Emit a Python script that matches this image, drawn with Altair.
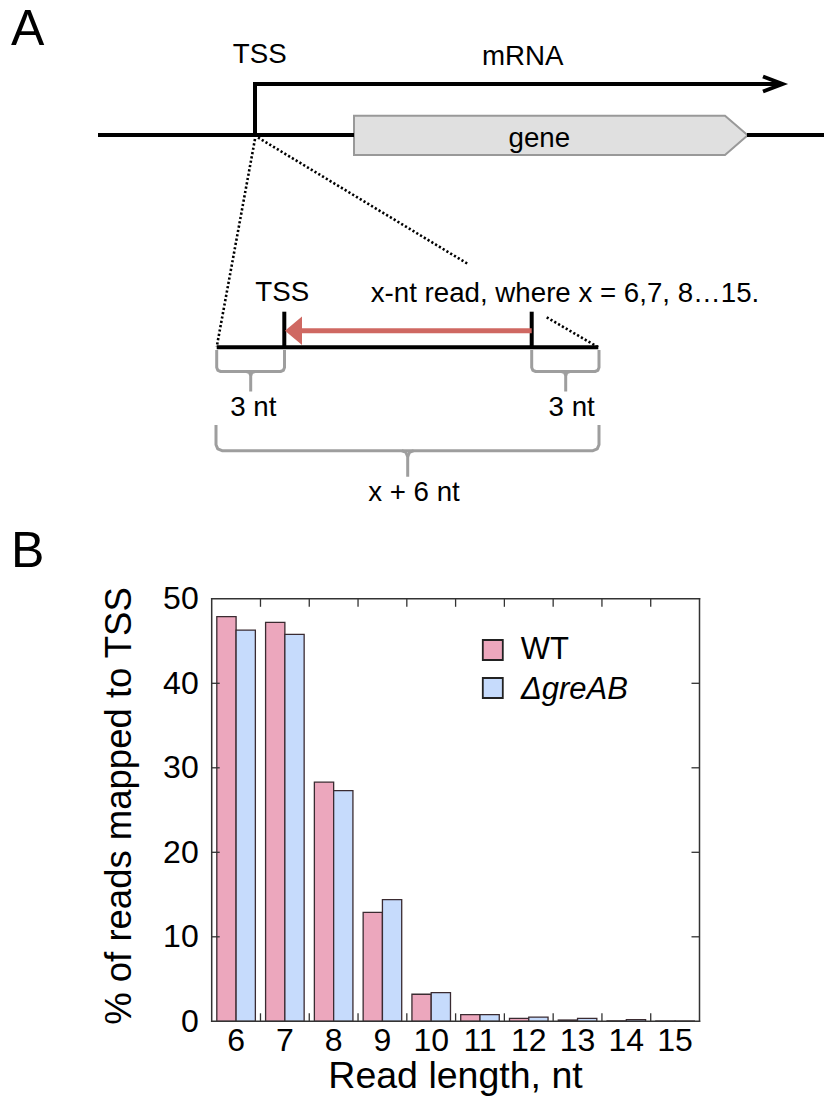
import altair as alt
import pandas as pd

# ---------------- data: panel B ----------------
read_lengths = [6, 7, 8, 9, 10, 11, 12, 13, 14, 15]
wt_pct = [47.9, 47.2, 28.3, 12.9, 3.2, 0.8, 0.35, 0.15, 0.05, 0.03]
greab_pct = [46.3, 45.8, 27.3, 14.4, 3.4, 0.8, 0.5, 0.35, 0.2, 0.03]
series_names = ["WT", "ΔgreAB"]
series_colors = ["#ECA7BD", "#C6DBFC"]
y_tick_values = [0, 10, 20, 30, 40, 50]
inner_y_ticks = [10, 20, 30, 40]
band_edges = [7, 8, 9, 10, 11, 12, 13, 14, 15]

# ---------------- layout ----------------
W, H = 824, 1099
XL, XR = 211.7, 699.5
Y0, Y50 = 1021.3, 598.8
TICK = 8
FONT = "Liberation Sans"
FS = 27.7

# ---------------- panel A diagram geometry ----------------
solid_paths = {
    "chrom_left": [(98, 135), (354, 135)],
    "chrom_right": [(747, 135), (824, 135)],
    "tss_arrow": [(255, 137), (255, 84), (780, 84)],
    "arrow_head": [(763, 76.5), (782.5, 84), (763, 91.5)],
    "zoom_line": [(216.7, 347.3), (598.3, 347.3)],
    "tss_tick": [(284.3, 311.7), (284.3, 349)],
    "read_tick": [(531.7, 311.7), (531.7, 349)],
}
dotted_segments = [
    (255, 139, 216.7, 347),
    (258, 137.5, 468, 264),
    (546.7, 317.3, 598.3, 347.3),
]
gene_shape = [(354, 115.7, 155), (725, 115.7, 155), (747.7, 135.3, 135.3)]
red_shaft = [(298, 330.7, 531.7, 330.7)]
red_head = [(285, 330.7, 330.7), (302, 316.5, 345)]
braces = [
    # xl, xr, xc, ytop, ybar, ytip, r
    (216.7, 284.5, 250.7, 350, 371.5, 391.5, 4),
    (531.7, 599, 565.7, 350, 371.5, 391.5, 4),
    (216, 599, 407.7, 425, 450.7, 476.7, 6),
]
center_texts = [
    ("TSS", 259.7, 62.5, FS),
    ("mRNA", 522.8, 65, FS),
    ("gene", 539.3, 146.5, FS),
    ("TSS", 282.2, 301, FS),
    ("3 nt", 253.3, 415.7, FS),
    ("3 nt", 571.7, 415.7, FS),
    ("x + 6 nt", 414, 501, FS),
    ("Read length, nt", 455.5, 1088.3, 37.5),
]
left_texts = [
    ("A", 11, 45, 50),
    ("B", 11, 566.7, 50),
    ("x-nt read, where x = 6,7, 8…15.", 370.7, 301.5, FS),
    ("WT", 520.7, 659.3, 31),
]
italic_texts = [("ΔgreAB", 521, 699, 31)]
rotated_texts = [("% of reads mapped to TSS", 131, 806, 36.5)]
legend_rows = [650, 688]
legend_x = 492.8

# ---------------- scales ----------------
px_x = alt.Scale(domain=[0, W], range=[0, W], nice=False, zero=False)
px_y = alt.Scale(domain=[0, H], range=[0, H], nice=False, zero=False)
x_scale = alt.Scale(domain=read_lengths, range=[XL, XR], paddingInner=0, paddingOuter=0)
y_scale = alt.Scale(domain=[0, 50], range=[Y0, Y50], nice=False, zero=True)
color_scale = alt.Scale(domain=series_names, range=series_colors)


def PX(f):
    return alt.X(f"{f}:Q", scale=px_x, axis=None)


def PY(f):
    return alt.Y(f"{f}:Q", scale=px_y, axis=None)


# ---------------- panel A layers ----------------
rows = []
for pid, pts in solid_paths.items():
    for i, (x, y) in enumerate(pts):
        rows.append(dict(pid=pid, o=i, x=x, y=y))
solid = alt.Chart(pd.DataFrame(rows)).mark_line(
    color="black", strokeWidth=4, strokeJoin="miter", strokeCap="butt"
).encode(x=PX("x"), y=PY("y"), detail="pid:N", order="o:Q")

dot_df = pd.DataFrame(dotted_segments, columns=["x", "y", "x2", "y2"])
dotted = alt.Chart(dot_df).mark_rule(
    color="black", strokeWidth=2.6, strokeDash=[2.2, 2.2]
).encode(x=PX("x"), y=PY("y"), x2="x2:Q", y2="y2:Q")

gene_df = pd.DataFrame(gene_shape, columns=["x", "y", "y2"])
gene = alt.Chart(gene_df).mark_area(
    fill="#E0E0E0", stroke="#999999", strokeWidth=2, strokeJoin="miter"
).encode(x=PX("x"), y=PY("y"), y2="y2:Q")

shaft_df = pd.DataFrame(red_shaft, columns=["x", "y", "x2", "y2"])
shaft = alt.Chart(shaft_df).mark_rule(color="#CF6862", strokeWidth=5).encode(
    x=PX("x"), y=PY("y"), x2="x2:Q", y2="y2:Q"
)
head_df = pd.DataFrame(red_head, columns=["x", "y", "y2"])
head = alt.Chart(head_df).mark_area(color="#CF6862").encode(
    x=PX("x"), y=PY("y"), y2="y2:Q"
)

brows = []
for bi, (xl, xr, xc, yt, yb, ytip, r) in enumerate(braces):
    k = 0.293 * r
    main = [(xl, yt), (xl, yb - r), (xl + k, yb - k), (xl + r, yb),
            (xr - r, yb), (xr - k, yb - k), (xr, yb - r), (xr, yt)]
    stem_l = [(xc - r, yb), (xc - k, yb + k), (xc, yb + r), (xc, ytip)]
    stem_r = [(xc + r, yb), (xc + k, yb + k), (xc, yb + r)]
    for name, pts in (("m", main), ("l", stem_l), ("r", stem_r)):
        for i, (x, y) in enumerate(pts):
            brows.append(dict(pid=f"{bi}{name}", o=i, x=x, y=y))
brace_layer = alt.Chart(pd.DataFrame(brows)).mark_line(
    color="#9E9E9E", strokeWidth=3, strokeJoin="round", strokeCap="butt"
).encode(x=PX("x"), y=PY("y"), detail="pid:N", order="o:Q")


def text_layer(items, align, **kw):
    df = pd.DataFrame(items, columns=["t", "x", "y", "fs"])
    return alt.Chart(df).mark_text(
        font=FONT, align=align, baseline="alphabetic", color="black", **kw
    ).encode(x=PX("x"), y=PY("y"), text="t:N", size=alt.Size("fs:Q", scale=None))


t_center = text_layer(center_texts, "center")
t_left = text_layer(left_texts, "left")
t_italic = text_layer(italic_texts, "left", fontStyle="italic")
t_rot = text_layer(rotated_texts, "center", angle=270)

# ---------------- panel B layers ----------------
bars_df = pd.DataFrame({
    "len": read_lengths * 2,
    "series": [series_names[0]] * len(read_lengths) + [series_names[1]] * len(read_lengths),
    "pct": wt_pct + greab_pct,
})
bars = alt.Chart(bars_df).mark_bar(stroke="#3a2b31", strokeWidth=1.3).encode(
    x=alt.X("len:O", scale=x_scale, axis=alt.Axis(
        orient="bottom", offset=-(H - Y0), domain=False, ticks=False, tickSize=0,
        labelFontSize=32, labelFont=FONT, labelColor="black", labelPadding=28.7,
        labelBaseline="alphabetic", labelAngle=0, title=None, grid=False)),
    xOffset=alt.XOffset("series:N", scale=alt.Scale(domain=series_names, paddingInner=0, paddingOuter=0.265)),
    y=alt.Y("pct:Q", scale=y_scale, axis=alt.Axis(
        orient="left", offset=-XL, values=y_tick_values, domain=False, ticks=False, tickSize=0,
        labelFontSize=32, labelFont=FONT, labelColor="black", labelPadding=13.5,
        labelFlush=False, labelOverlap=False, title=None, grid=False)),
    color=alt.Color("series:N", scale=color_scale, legend=None),
)

ytick_df = pd.DataFrame({"v": inner_y_ticks})
yticks_left = alt.Chart(ytick_df).mark_rule(color="#333333", strokeWidth=1.3).encode(
    y=alt.Y("v:Q", scale=y_scale, axis=None), x=alt.value(XL), x2=alt.value(XL + TICK))
yticks_right = alt.Chart(ytick_df).mark_rule(color="#333333", strokeWidth=1.3).encode(
    y=alt.Y("v:Q", scale=y_scale, axis=None), x=alt.value(XR - TICK), x2=alt.value(XR))
xtick_df = pd.DataFrame({"b": band_edges})
xticks_top = alt.Chart(xtick_df).mark_rule(color="#333333", strokeWidth=1.3).encode(
    x=alt.X("b:O", scale=x_scale, axis=None, bandPosition=0), y=alt.value(Y50), y2=alt.value(Y50 + TICK))
xticks_bot = alt.Chart(xtick_df).mark_rule(color="#333333", strokeWidth=1.3).encode(
    x=alt.X("b:O", scale=x_scale, axis=None, bandPosition=0), y=alt.value(Y0 - TICK), y2=alt.value(Y0))

frame_df = pd.DataFrame([(XL, Y50, XR, Y50), (XL, Y0, XR, Y0), (XL, Y50, XL, Y0), (XR, Y50, XR, Y0)],
                        columns=["x", "y", "x2", "y2"])
frame = alt.Chart(frame_df).mark_rule(color="#333333", strokeWidth=1.5, strokeCap="square").encode(
    x=PX("x"), y=PY("y"), x2="x2:Q", y2="y2:Q")

leg_df = pd.DataFrame({"series": series_names, "ly": legend_rows})
legend_sq = alt.Chart(leg_df).mark_square(size=400, filled=True, stroke="#222222", strokeWidth=1.8, opacity=1).encode(
    x=alt.value(legend_x), y=PY("ly"),
    color=alt.Color("series:N", scale=color_scale, legend=None))

chart = alt.layer(
    gene, solid, dotted, shaft, head, brace_layer,
    bars, yticks_left, yticks_right, xticks_top, xticks_bot, frame, legend_sq,
    t_center, t_left, t_italic, t_rot,
).resolve_scale(
    x="independent", y="independent", color="independent"
).properties(
    width=W, height=H, autosize=alt.AutoSizeParams(type="none"), padding=0, background="white"
).configure_view(stroke=None)

chart.save("out.html", embed_options={"renderer": "svg", "actions": False})
